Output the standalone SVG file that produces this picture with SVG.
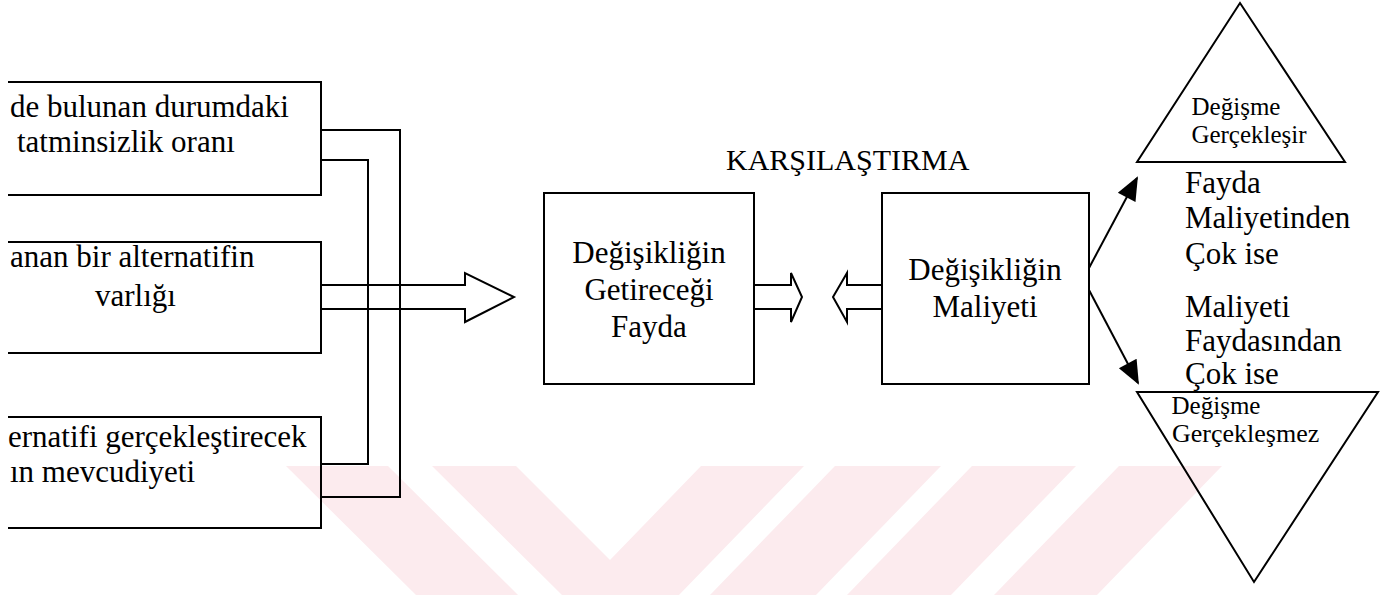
<svg xmlns="http://www.w3.org/2000/svg" width="1380" height="595" viewBox="0 0 1380 595" font-family="'Liberation Serif', 'Times New Roman', serif">
  <style>
    text { font-family: 'Liberation Serif', 'Times New Roman', serif; fill: #000; }
    .box { fill: none; stroke: #000; stroke-width: 2; }
    .ln { fill: none; stroke: #000; stroke-width: 2; }
    .wm { fill: #fcebee; stroke: none; }
  </style>
  <defs>
    <marker id="head" viewBox="0 0 12 10" refX="11" refY="5" markerUnits="userSpaceOnUse" markerWidth="28" markerHeight="20" orient="auto">
      <path d="M0,0 L12,5 L0,10 z" fill="#000"/>
    </marker>
  </defs>

  <!-- background stripes -->
  <g id="background">
    <polygon class="wm" points="286,466 388,466 518,595 416,595"/>
    <polygon class="wm" points="432,466 516,466 610,560 701,466 804,466 679,595 562,595"/>
    <polygon class="wm" points="835,466 941,466 816,595 710,595"/>
    <polygon class="wm" points="972,466 1076,466 951,595 847,595"/>
    <polygon class="wm" points="1119,466 1222,466 1097,595 994,595"/>
  </g>

  <!-- left column: three factor boxes (left edges run off the page) -->
  <g id="factor-1">
    <path class="box" d="M8,82 H321 V195 H8"/>
    <text x="10" y="117" font-size="31">de bulunan durumdaki</text>
    <text x="17" y="152" font-size="31">tatminsizlik oranı</text>
  </g>
  <g id="factor-2">
    <path class="box" d="M8,242 H321 V353 H8"/>
    <text x="10" y="267" font-size="31">anan bir alternatifin</text>
    <text x="95" y="306" font-size="31">varlığı</text>
  </g>
  <g id="factor-3">
    <path class="box" d="M8,417 H321 V528 H8"/>
    <text x="8" y="447" font-size="31">ernatifi gerçekleştirecek</text>
    <text x="10" y="482" font-size="31">ın mevcudiyeti</text>
  </g>

  <!-- comparison boxes -->
  <g id="benefit">
    <rect class="box" x="544" y="193" width="210" height="191"/>
    <text x="649" y="263" font-size="31" text-anchor="middle">Değişikliğin</text>
    <text x="649" y="300" font-size="31" text-anchor="middle">Getireceği</text>
    <text x="649" y="337" font-size="31" text-anchor="middle">Fayda</text>
  </g>
  <g id="cost">
    <rect class="box" x="882" y="193" width="207" height="191"/>
    <text x="985" y="280" font-size="31" text-anchor="middle">Değişikliğin</text>
    <text x="985" y="317" font-size="31" text-anchor="middle">Maliyeti</text>
  </g>
  <g id="compare-label">
    <text x="726" y="170" font-size="30">KARŞILAŞTIRMA</text>
  </g>

  <!-- outcomes -->
  <g id="change-happens">
    <polygon class="ln" points="1240,3 1345,162 1137,162"/>
    <text x="1236" y="115" font-size="25" text-anchor="middle">Değişme</text>
    <text x="1249" y="143" font-size="25" text-anchor="middle">Gerçekleşir</text>
  </g>
  <g id="condition-benefit">
    <text x="1185" y="193" font-size="31">Fayda</text>
    <text x="1185" y="228" font-size="31">Maliyetinden</text>
    <text x="1185" y="264" font-size="31">Çok ise</text>
  </g>
  <g id="condition-cost">
    <text x="1185" y="317" font-size="31">Maliyeti</text>
    <text x="1185" y="351" font-size="31">Faydasından</text>
    <text x="1185" y="384" font-size="31">Çok ise</text>
  </g>
  <g id="change-fails">
    <polygon class="ln" points="1137,392 1378,392 1254,582"/>
    <text x="1216" y="414" font-size="25" text-anchor="middle">Değişme</text>
    <text x="1172" y="442" font-size="26">Gerçekleşmez</text>
  </g>

  <!-- connectors -->
  <g id="connectors">
    <path class="ln" d="M321,130 H400 V497 H321"/>
    <path class="ln" d="M321,160 H368 V464 H321"/>
    <path class="ln" d="M321,285 H465 V273 L514,297 L465,322 V309 H321"/>
    <path class="ln" d="M754,285 H791 V273 L802,297 L791,322 V309 H754"/>
    <path class="ln" d="M882,285 H847 V273 L833,297 L847,322 V309 H882"/>
    <line class="ln" x1="1089" y1="268" x2="1137" y2="178" marker-end="url(#head)"/>
    <line class="ln" x1="1089" y1="290" x2="1138" y2="383" marker-end="url(#head)"/>
  </g>
</svg>
